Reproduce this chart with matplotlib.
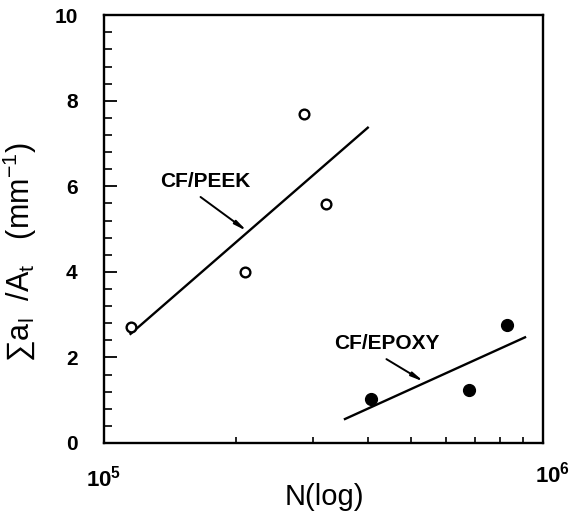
import matplotlib
matplotlib.use("Agg")
import matplotlib.pyplot as plt
from matplotlib.ticker import FixedLocator, NullFormatter
from matplotlib.transforms import ScaledTranslation

plt.rcParams['font.family'] = ['Liberation Sans', 'DejaVu Sans']
plt.rcParams['mathtext.fontset'] = 'custom'
plt.rcParams['mathtext.rm'] = 'Liberation Sans'
plt.rcParams['mathtext.it'] = 'Liberation Sans'
plt.rcParams['mathtext.bf'] = 'Liberation Sans:bold'

# CF/PEEK (open circles) and its fitted line
peek_n = [1.15e5, 2.10e5, 2.86e5, 3.21e5]
peek_val = [2.72, 4.0, 7.7, 5.58]
peek_fit_n = [1.15e5, 3.99e5]
peek_fit_val = [2.55, 7.37]

# CF/EPOXY (filled circles) and its fitted line
epoxy_n = [4.05e5, 6.77e5, 8.27e5]
epoxy_val = [1.02, 1.25, 2.76]
epoxy_fit_n = [3.54e5, 9.1e5]
epoxy_fit_val = [0.56, 2.47]

y_ticks = [0, 2, 4, 6, 8, 10]

fig = plt.figure(figsize=(5.74, 5.23), dpi=100)
ax = fig.add_axes([0.181, 0.153, 0.765, 0.818])

ax.plot(peek_fit_n, peek_fit_val, color='black', lw=1.7)
ax.plot(peek_n, peek_val, 'o', mfc='white', mec='black', mew=1.7, ms=7)
ax.plot(epoxy_fit_n, epoxy_fit_val, color='black', lw=1.7)
ax.plot(epoxy_n, epoxy_val, 'o', color='black', ms=8.5)

ax.set_xscale('log')
ax.set_xlim(1e5, 1e6)
ax.set_ylim(0, 10)
ax.set_yticks(y_ticks)
ax.yaxis.set_minor_locator(FixedLocator([i * 0.4 for i in range(26)]))
ax.xaxis.set_major_locator(FixedLocator([1e5, 1e6]))
ax.xaxis.set_minor_locator(FixedLocator([k * 1e5 for k in range(2, 10)]))
ax.xaxis.set_minor_formatter(NullFormatter())
ax.set_xticklabels([r'$\mathbf{10^5}$', r'$\mathbf{10^6}$'])

ax.tick_params(axis='y', which='major', direction='in', length=9, width=1.3,
               labelsize=15, pad=19)
ax.tick_params(axis='y', which='minor', direction='in', length=6, width=1.2)
ax.tick_params(axis='x', which='major', direction='in', length=0,
               labelsize=16, pad=16)
ax.tick_params(axis='x', which='minor', direction='in', length=4, width=1.2)
for lab in ax.get_yticklabels():
    lab.set_fontweight('bold')
xlabs = ax.get_xticklabels()
xlabs[1].set_transform(xlabs[1].get_transform()
                       + ScaledTranslation(10 / 100, 4 / 100, fig.dpi_scale_trans))
for sp in ax.spines.values():
    sp.set_linewidth(1.7)

ax.set_xlabel('N(log)', fontsize=21)
ax.xaxis.set_label_coords(0.503, -0.093)
ax.set_ylabel(r'$\sum$a$_\mathrm{l}$  /A$_\mathrm{t}$   (mm$^{-1}$)', fontsize=22)
ax.yaxis.set_label_coords(-0.148, 0.445)

arrow = dict(arrowstyle='-|>,head_length=0.7,head_width=0.12', color='black',
             lw=1.4, shrinkA=0, shrinkB=0)
ax.text(1.70e5, 6.12, 'CF/PEEK', fontsize=15, fontweight='bold',
        ha='center', va='center')
ax.annotate('', xy=(2.12e5, 4.95), xytext=(1.66e5, 5.75), arrowprops=arrow)
ax.text(4.40e5, 2.32, 'CF/EPOXY', fontsize=15, fontweight='bold',
        ha='center', va='center')
ax.annotate('', xy=(5.36e5, 1.43), xytext=(4.40e5, 1.96), arrowprops=arrow)

fig.savefig('out.png', dpi=100)
